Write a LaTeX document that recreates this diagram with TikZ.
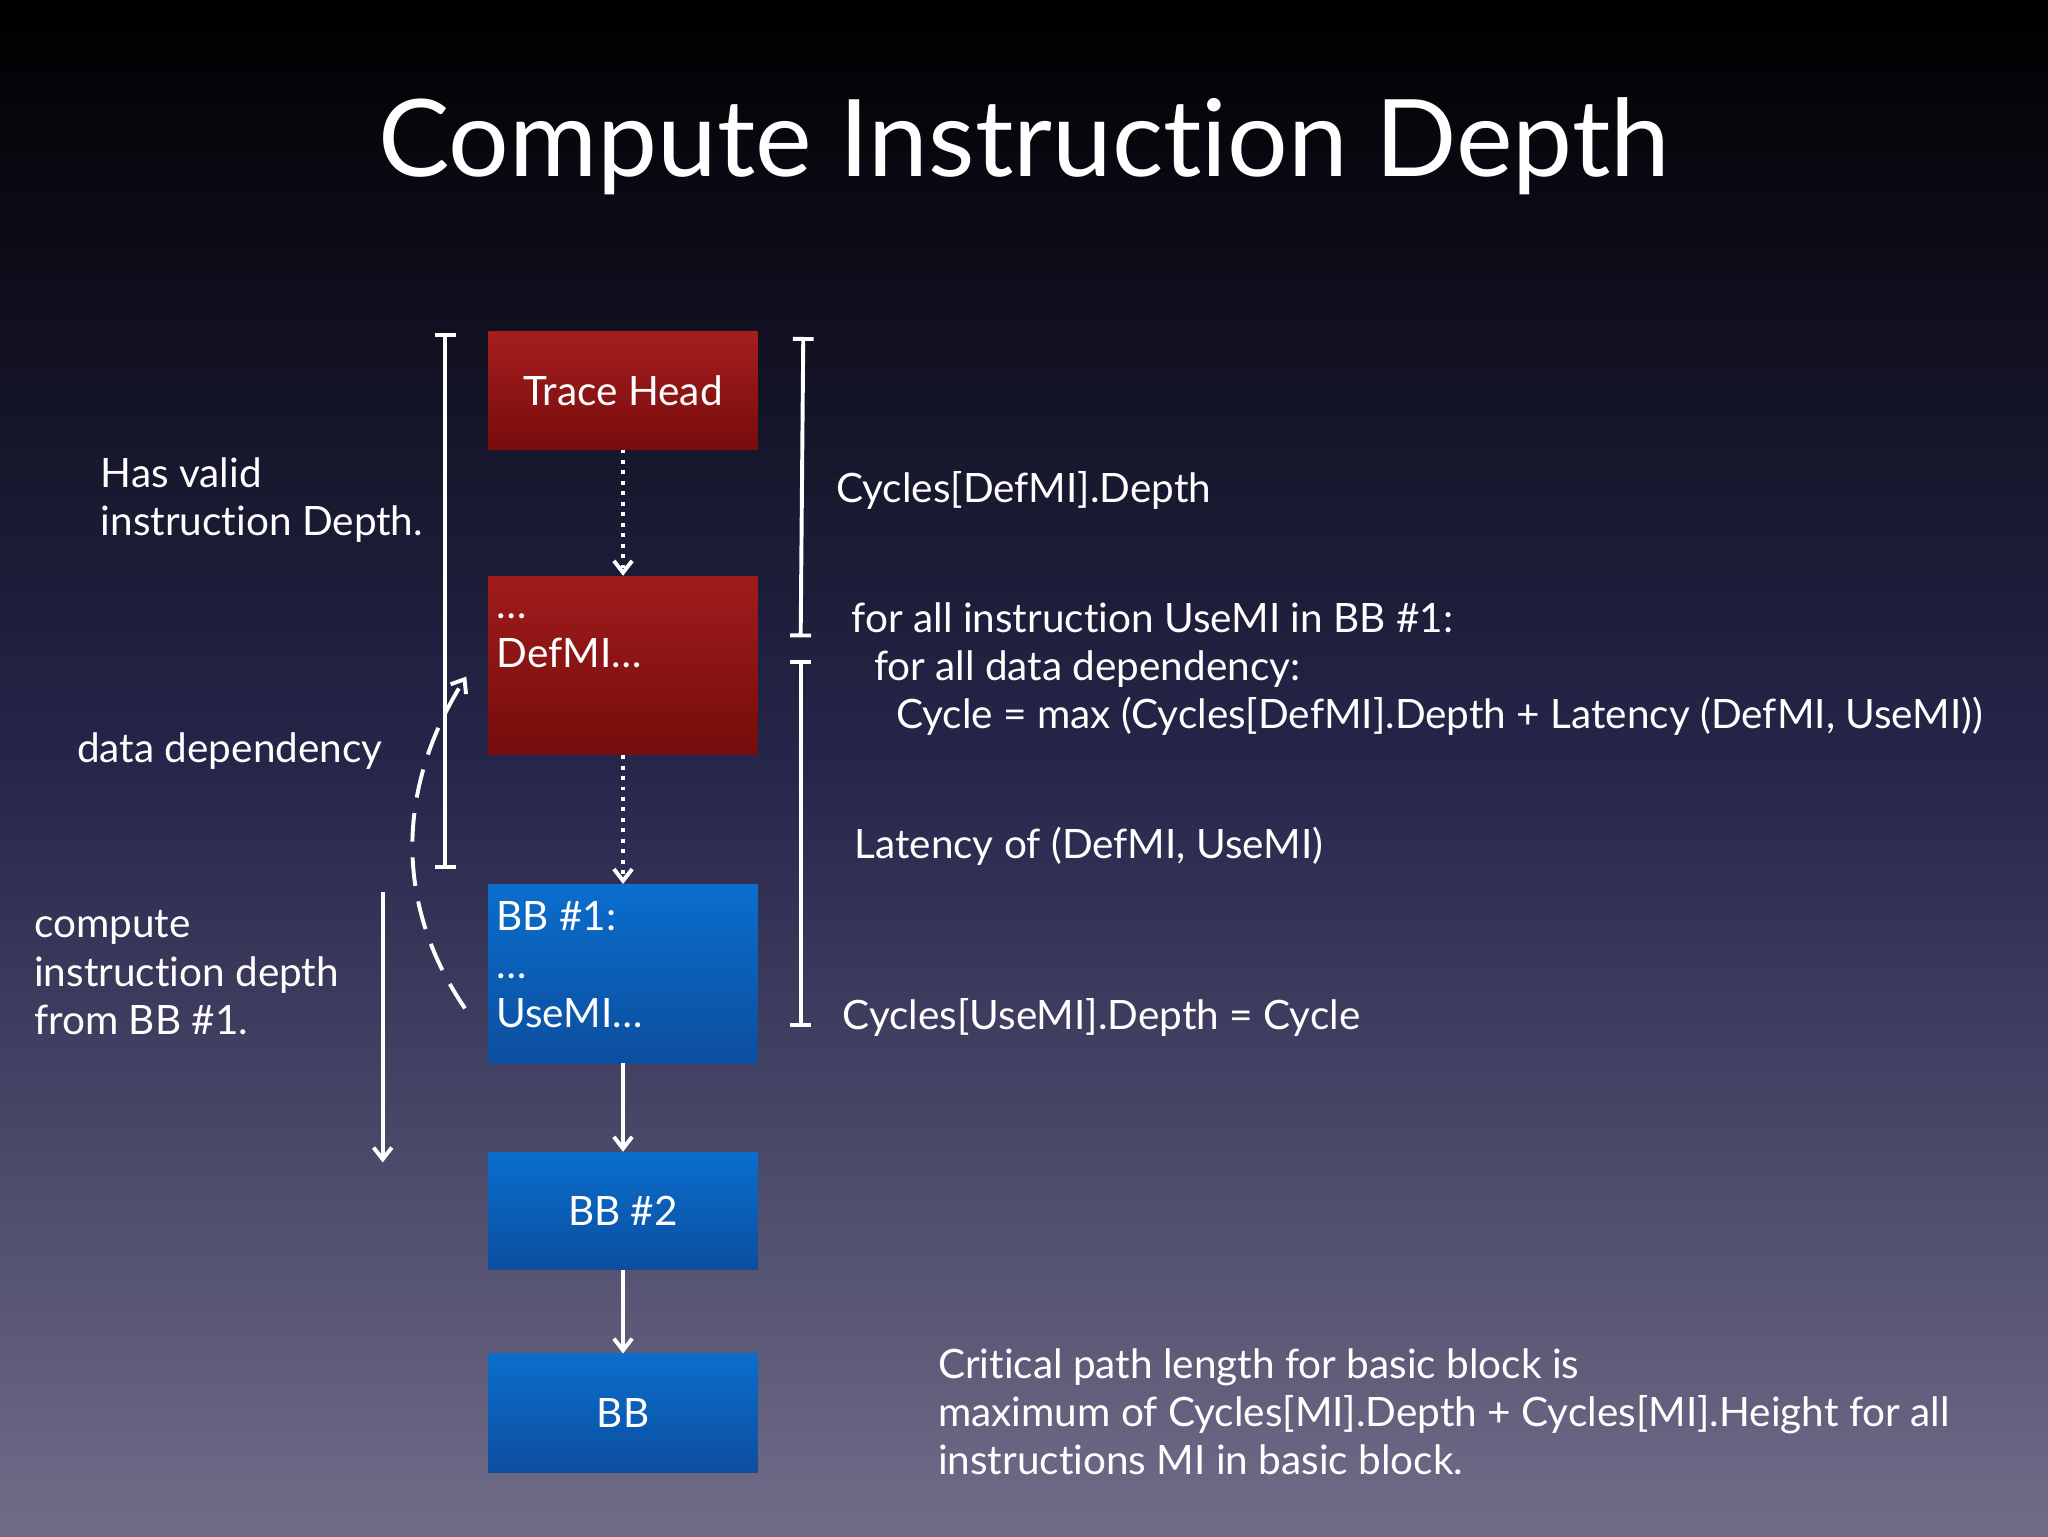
\documentclass[tikz,border=0pt]{standalone}
\usepackage{fontspec}
\setmainfont{Lato}[Ligatures={NoCommon,NoRare,NoDiscretionary}]
\usetikzlibrary{arrows.meta}
\begin{document}
\begin{tikzpicture}[x=1pt,y=-1pt,
  box/.style={minimum width=206pt,inner sep=6pt,text=white,font=\fontsize{31}{37}\selectfont},
  red/.style={box},
  blue/.style={box,top color={rgb,255:red,10;green,110;blue,205},bottom color={rgb,255:red,12;green,78;blue,158}},
  txt/.style={text=white,font=\fontsize{31}{37}\selectfont,align=left,anchor=north west,inner sep=0pt},
  ln/.style={white,line width=3pt},
  arr/.style={ln,-{Straight Barb[length=9pt,width=14pt]}},
  dots/.style={dash pattern=on 3pt off 5pt},
  brk/.style={ln,{|[width=16pt]}-{|[width=16pt]}}]
\shade[top color=black,bottom color={rgb,255:red,112;green,108;blue,136},middle color={rgb,255:red,38;green,38;blue,75}] (0,0) rectangle (1568,1176);
\useasboundingbox (0,0) rectangle (1568,1176);
\node[text=white,font=\fontsize{82}{96}\selectfont] (title) at (784,112) {Compute Instruction Depth};
\node[red,minimum height=90pt,top color={rgb,255:red,165;green,30;blue,30},bottom color={rgb,255:red,120;green,12;blue,12}] (th) at (477,299) {Trace Head};
\node[red,minimum height=137pt,top color={rgb,255:red,160;green,28;blue,28},bottom color={rgb,255:red,118;green,12;blue,12}] (def) at (477,509.5) {};
\node[txt] (deft) at (380,470) {\dots\\DefMI\dots};
\node[blue,minimum height=137pt] (bb1) at (477,745.5) {};
\node[txt] (bb1t) at (380,690) {BB \#1:\\\dots\\UseMI\dots};
\node[blue,minimum height=90pt] (bb2) at (477,927) {BB \#2};
\node[blue,minimum height=91pt] (bb) at (477,1082) {BB};
\draw[arr,dots] (th) -- (def);
\draw[arr,dots] (def) -- (bb1);
\draw[arr] (bb1) -- (bb2);
\draw[arr] (bb2) -- (bb);
\coordinate (l1) at (341,255); \coordinate (l2) at (341,665);
\draw[brk] (l1) -- (l2);
\coordinate (r1) at (615,258); \coordinate (r2) at (613,488);
\draw[brk] (r1) -- (r2);
\coordinate (r3) at (613,505); \coordinate (r4) at (613,786);
\draw[brk] (r3) -- (r4);
\coordinate (d1) at (293,683); \coordinate (d2) at (293,890);
\draw[arr] (d1) -- (d2);
\coordinate (c1) at (356,772); \coordinate (c2) at (357,518);
\draw[arr,dash pattern=on 22pt off 12pt] (c1) .. controls (300,690) and (305,600) .. (c2);
\node[txt] (t1) at (77,350) {Has valid\\instruction Depth.};
\node[txt] (t2) at (59,561) {data dependency};
\node[txt] (t3) at (26,697) {compute\\instruction depth\\from BB \#1.};
\node[txt] (t4) at (640,361) {Cycles[DefMI].Depth};
\node[txt] (t5) at (652,461) {for all instruction UseMI in BB \#1:\\\hspace{17pt}for all data dependency:\\\hspace{34pt}Cycle = max (Cycles[DefMI].Depth + Latency (DefMI, UseMI))};
\node[txt] (t6) at (654,633) {Latency of (DefMI, UseMI)};
\node[txt] (t7) at (645,764) {Cycles[UseMI].Depth = Cycle};
\node[txt] (t8) at (718,1032) {Critical path length for basic block is\\maximum of Cycles[MI].Depth + Cycles[MI].Height for all\\instructions MI in basic block.};
\end{tikzpicture}
\end{document}
